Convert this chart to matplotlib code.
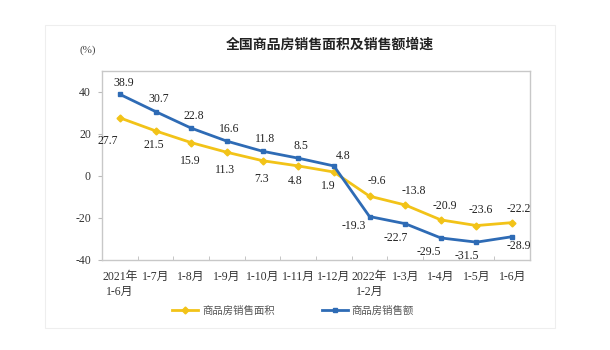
import matplotlib
matplotlib.use("Agg")
import matplotlib.pyplot as plt
from matplotlib.patches import Rectangle
import numpy as np

categories = ["2021年\n1-6月", "1-7月", "1-8月", "1-9月", "1-10月", "1-11月", "1-12月",
              "2022年\n1-2月", "1-3月", "1-4月", "1-5月", "1-6月"]
area = [27.7, 21.5, 15.9, 11.3, 7.3, 4.8, 1.9, -9.6, -13.8, -20.9, -23.6, -22.2]
sales = [38.9, 30.7, 22.8, 16.6, 11.8, 8.5, 4.8, -19.3, -22.7, -29.5, -31.5, -28.9]
yticks = [-40, -20, 0, 20, 40]
title = "全国商品房销售面积及销售额增速"
legend_labels = ["商品房销售面积", "商品房销售额"]

YELLOW = "#F2C318"
BLUE = "#2E6BB5"
serif = ["Liberation Serif", "Noto Sans CJK SC"]
cjk = ["Noto Sans CJK SC", "DejaVu Sans"]

fig = plt.figure(figsize=(6.1, 3.5), dpi=100)
# faint outer frame
fig.patches.append(Rectangle((45 / 610, 1 - 328 / 350), (555 - 45) / 610, (328 - 25) / 350,
                             transform=fig.transFigure, fill=False, edgecolor="#eeeeee", lw=0.8))
ax = fig.add_axes([102 / 610, 1 - 260 / 350, (530 - 102) / 610, (260 - 71) / 350])

x = np.arange(len(categories))
l1, = ax.plot(x, area, color=YELLOW, lw=2.0, marker="D", ms=3.5, label=legend_labels[0])
l2, = ax.plot(x, sales, color=BLUE, lw=2.0, marker="s", ms=3.5, label=legend_labels[1])

ax.set_xlim(-0.5, len(categories) - 0.5)
ax.set_ylim(-40, 50)
ax.set_yticks(yticks)
ax.set_yticklabels([str(v) for v in yticks], family=serif, fontsize=8.5, color="#333333")
ax.set_xticks(x)
ax.set_xticklabels(categories, family=serif, fontsize=8.5, color="#333333", linespacing=1.3, va="top")
ax.tick_params(axis="x", length=0, pad=8)
ax.set_xticks(np.arange(0.5, len(categories) - 0.5, 1), minor=True)
ax.tick_params(axis="x", which="minor", direction="in", length=3, color="#bbbbbb")
ax.tick_params(axis="y", direction="out", length=3, color="#bbbbbb", pad=5)
for s in ax.spines.values():
    s.set_color("#c8c8c8")
    s.set_linewidth(1.0)

# data labels (offsets in points)
sales_off = [(3, 8), (2, 9), (2, 9), (2, 9), (2, 9), (2, 9), (7, 7),
             (-11, -7), (-7, -10), (-9, -10), (-7, -10), (5, -7)]
area_off = [(-9, -17), (-1, -10), (-1, -13), (-1, -13), (-1, -13), (-2, -11), (-4, -10),
            (5, 11), (6, 10), (3, 10), (3, 11), (5, 10)]
for i, v in enumerate(sales):
    ax.annotate(f"{v:.1f}", (x[i], v), xytext=sales_off[i], textcoords="offset points",
                ha="center", va="center", family=serif, fontsize=8.5, color="#222222")
for i, v in enumerate(area):
    ax.annotate(f"{v:.1f}", (x[i], v), xytext=area_off[i], textcoords="offset points",
                ha="center", va="center", family=serif, fontsize=8.5, color="#222222")

fig.text(330 / 610, 1 - 45 / 350, title, ha="center", va="center", family=cjk,
         fontsize=10, fontweight="bold", color="#222222")
fig.text(88 / 610, 1 - 50 / 350, "(%)", ha="center", va="center", family=serif,
         fontsize=8, color="#444444")

fig.legend(handles=[l1, l2], loc="center", bbox_to_anchor=(293 / 610, 1 - 311 / 350),
           ncol=2, frameon=False, prop={"family": cjk, "size": 7.5}, handlelength=2.5,
           columnspacing=4.5, handletextpad=0.4, labelcolor="#555555")

fig.savefig("out.png", dpi=100, facecolor="white")
